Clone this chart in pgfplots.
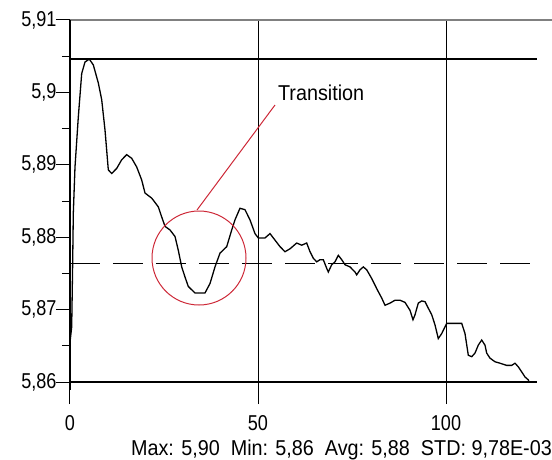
\documentclass[border=0pt]{standalone}
\usepackage{fontspec}
\setmainfont[FakeStretch=0.92]{Liberation Sans}
\newfontfamily\ticksf[FakeStretch=0.84]{Liberation Sans}
\usepackage{pgfplots}
\pgfplotsset{compat=1.18}
\newcommand{\fs}{\fontsize{21.5}{24}\selectfont}
\definecolor{circred}{RGB}{205,40,55}

\begin{document}
\begin{tikzpicture}
\path[use as bounding box] (-70pt,-69pt) rectangle (482pt,390pt);
\begin{axis}[
    at={(0,0)}, anchor=south west,
    scale only axis,
    width=482pt, height=370pt,
    xmin=0, xmax=128.19,
    ymin=5.8589, ymax=5.91,
    axis line style={draw=none},
    xtick pos=bottom, ytick pos=left,
    xtick={0,50,100},
    ytick={5.86,5.87,5.88,5.89,5.9,5.91},
    yticklabels={{5,86},{5,87},{5,88},{5,89},{5,9},{5,91}},
    minor ytick={5.865,5.875,5.885,5.895,5.905},
    tick align=outside,
    major tick length=14pt, minor tick length=8pt,
    xtick style={black, line width=1pt},
    ytick style={black, line width=1pt},
    xmajorgrids,
    grid style={black, line width=1pt},
    /pgf/number format/assume math mode=true,
    tick label style={font=\fs\ticksf},
    xticklabel style={yshift=-8pt},
    yticklabel style={xshift=4pt},
    clip=false,
]
% kurve
\addplot[black, line width=1.3pt] coordinates {
(0,5.8655)(0.45,5.8676)(0.7,5.8760)(0.88,5.8833)(1.33,5.8897)(2.21,5.8966)
(3.11,5.9026)(3.99,5.9042)(5.13,5.9046)(6.20,5.9038)(7.53,5.9013)(8.43,5.8990)
(9.31,5.8948)(10.19,5.8893)(11.09,5.8888)(12.42,5.8895)(13.75,5.8907)(15.08,5.8914)
(16.41,5.8909)(17.74,5.8897)(19.07,5.8879)(19.95,5.8861)(21.73,5.8854)(23.48,5.8842)
(24.39,5.8828)(25.27,5.8815)(26.60,5.8810)(27.93,5.8801)(28.80,5.8782)(29.71,5.8759)
(30.59,5.8745)(31.46,5.8732)(33.24,5.8723)(35.90,5.8723)(37.23,5.8736)(38.56,5.8759)
(39.89,5.8778)(41.68,5.8787)(43.01,5.8810)(43.88,5.8824)(45.21,5.8840)(46.54,5.8838)
(47.87,5.8824)(49.20,5.8805)(50.08,5.8799)(51.86,5.8799)(53.19,5.8805)(54.52,5.8796)
(55.85,5.8787)(57.18,5.8780)(58.51,5.8784)(60.29,5.8792)(61.62,5.8789)(62.95,5.8792)
(63.83,5.8780)(64.71,5.8771)(65.61,5.8766)(66.49,5.8769)(67.37,5.8769)(68.27,5.8757)
(68.70,5.8752)(69.60,5.8762)(70.48,5.8766)(71.36,5.8775)(72.26,5.8769)(73.14,5.8762)
(74.47,5.8759)(75.80,5.8752)(76.25,5.8748)(77.13,5.8755)(78.01,5.8759)(78.91,5.8755)
(80.24,5.8743)(81.57,5.8729)(82.90,5.8716)(83.78,5.8706)(85.11,5.8709)(86.44,5.8713)
(87.77,5.8713)(89.10,5.8710)(90.43,5.8699)(91.22,5.8686)(91.76,5.8693)(92.63,5.8709)
(93.54,5.8712)(94.41,5.8711)(95.29,5.8702)(96.20,5.8693)(97.07,5.8679)(97.95,5.8660)
(98.86,5.8667)(100.19,5.8681)(104.18,5.8681)(105.05,5.8667)(105.93,5.8637)(106.84,5.8635)
(107.71,5.8640)(108.59,5.8651)(109.49,5.8658)(110.37,5.8651)(110.82,5.8640)(111.70,5.8633)
(113.03,5.8628)(114.36,5.8626)(116.14,5.8623)(117.47,5.8623)(118.35,5.8626)(119.23,5.8621)
(120.13,5.8614)(121.01,5.8607)(121.89,5.8603)(122.07,5.8600)
};
% max, min, avg
\addplot[black, line width=1.3pt] coordinates {(0,5.9046)(124.2,5.9046)};
\addplot[black, line width=1.3pt] coordinates {(0,5.86)(124.2,5.86)};
\addplot[black, line width=1.3pt, dash pattern=on 30pt off 13pt] coordinates {(0,5.8764)(124.2,5.8764)};
\draw[gray, line width=1.3pt] (axis cs:0,5.91) -- (axis cs:128.19,5.91);
\draw[black, line width=1.6pt] (axis cs:0,5.8589) -- (axis cs:0,5.91);
% ticks von hand
\draw[black, line width=1pt] (axis cs:-3.72,5.86) -- (axis cs:0,5.86);
\draw[black, line width=1pt] (axis cs:-3.72,5.87) -- (axis cs:0,5.87);
\draw[black, line width=1pt] (axis cs:-3.72,5.88) -- (axis cs:0,5.88);
\draw[black, line width=1pt] (axis cs:-3.72,5.89) -- (axis cs:0,5.89);
\draw[black, line width=1pt] (axis cs:-3.72,5.90) -- (axis cs:0,5.90);
\draw[black, line width=1pt] (axis cs:-3.72,5.91) -- (axis cs:0,5.91);
\draw[black, line width=1pt] (axis cs:0,5.8571) -- (axis cs:0,5.8589);
\draw[black, line width=1pt] (axis cs:50,5.8571) -- (axis cs:50,5.8589);
\draw[black, line width=1pt] (axis cs:100,5.8571) -- (axis cs:100,5.8589);
% transition
\draw[circred, line width=1pt] (axis cs:34.31,5.87713) circle[radius=47pt];
\draw[circred, line width=1pt] (axis cs:33.78,5.88376) -- (axis cs:54.52,5.89826);
\node[anchor=base west, inner sep=0pt, font=\fs] at (axis cs:55.3,5.89895) {Transition};
\node[anchor=base, inner sep=0pt, font=\fs] at (axis cs:72.2,5.8499)
    {Max: 5,90\ \ Min: 5,86\ \ Avg: 5,88\ \ STD: 9,78E-03};
\end{axis}
\end{tikzpicture}
\end{document}
